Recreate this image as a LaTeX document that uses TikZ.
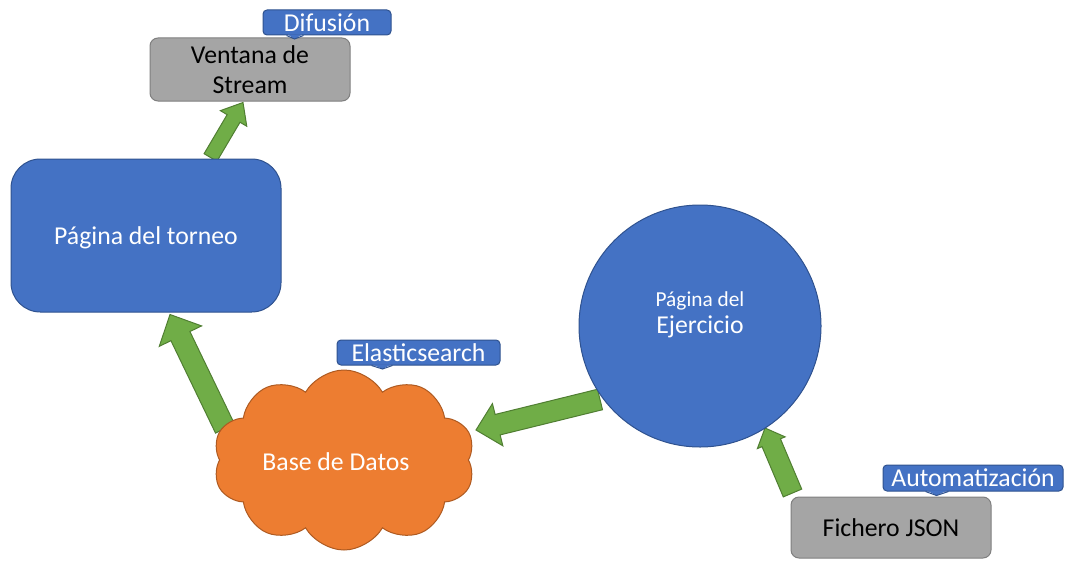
\documentclass[tikz,border=0pt]{standalone}
\usepackage{fontspec}
\setmainfont{Carlito}
\usetikzlibrary{shapes.symbols,calc,backgrounds}
\definecolor{bluefill}{HTML}{4472C4}
\definecolor{blueline}{HTML}{2F528F}
\definecolor{orangefill}{HTML}{ED7D31}
\definecolor{orangeline}{HTML}{AE5A21}
\definecolor{greenfill}{HTML}{70AD47}
\definecolor{greenline}{HTML}{507E32}
\definecolor{grayfill}{HTML}{A5A5A5}
\definecolor{grayline}{HTML}{7F7F7F}
\tikzset{
  base/.style={font=\fontsize{19.3}{23}\selectfont, inner sep=0pt, line width=0.75pt},
  graybox/.style={base, rounded corners=6pt, fill=grayfill, draw=grayline, text=black, align=center},
  bluebox/.style={base, fill=bluefill, draw=blueline, text=white, align=center},
  tagbox/.style={base, rounded corners=3pt, fill=bluefill, draw=blueline, text=white},
  cloudbox/.style={base, cloud, cloud puffs=10, cloud puff arc=120, aspect=1.45, fill=orangefill, draw=orangeline, text=white},
  blockarrowstyle/.style={fill=greenfill, draw=greenline, line width=0.75pt, line join=miter},
  tagfill/.style={fill=bluefill},
  tagline/.style={draw=blueline, line width=0.75pt},
}
% #1 start, #2 tip, #3 shaft half width, #4 head half width, #5 head length
\newcommand{\blockarr}[5]{%
  \coordinate (ba-h) at ($(#2)!#5!(#1)$);
  \path[blockarrowstyle] ($(#1)!#3!90:(#2)$) -- ($(ba-h)!#3!-90:(#1)$) -- ($(ba-h)!#4!-90:(#1)$)
    -- (#2) -- ($(ba-h)!#4!90:(#1)$) -- ($(ba-h)!#3!90:(#1)$) -- ($(#1)!#3!-90:(#2)$) -- cycle;}
% #1 node, #2 left offset, #3 tip offset, #4 right offset, #5 depth
\newcommand{\tagpointer}[5]{%
  \fill[tagfill] ($(#1.south west)+(#2,-1.2)$) -- ($(#1.south west)+(#3,#5)$) -- ($(#1.south west)+(#4,-1.2)$) -- cycle;
  \draw[tagline] ($(#1.south west)+(#2-1,0)$) -- ($(#1.south west)+(#3,#5)$) -- ($(#1.south west)+(#4+1,0)$);}
\begin{document}
\begin{tikzpicture}[x=0.75pt,y=-0.75pt]
\useasboundingbox (0,0) rectangle (1073,560);

% nodes
\node[graybox, minimum width=150pt, minimum height=47.25pt] (ventana) at (250,69.5) {Ventana de\\Stream};
\node[tagbox, minimum width=96pt, minimum height=18.75pt] (difusion) at (327,22.5) {Difusión};
\tagpointer{difusion}{25}{32}{40}{3.5}

\node[bluebox, rounded corners=22pt, minimum width=202.5pt, minimum height=114.75pt] (torneo) at (146,235.5) {};
\node[base, text=white] (torneotxt) at (146,238) {Página del torneo};

\node[cloudbox, minimum width=196.5pt, minimum height=135pt] (datos) at (344,460) {};
\node[base, text=white] (datostxt) at (336,462) {Base de Datos};
\node[tagbox, minimum width=122.25pt, minimum height=18.75pt] (elastic) at (418.5,352.5) {Elasticsearch};
\tagpointer{elastic}{36}{46}{55}{3.5}

\node[bluebox, circle, minimum size=181.5pt] (ejercicio) at (700,326) {};
\node[base, text=white, align=center] (ejerciciotxt) at (700,314.5) {{\fontsize{16}{19}\selectfont Página del}\\[-3pt]Ejercicio};

\node[graybox, minimum width=150pt, minimum height=45.75pt] (json) at (891,527.5) {Fichero JSON};
\node[tagbox, minimum width=135pt, minimum height=19.5pt] (auto) at (973,478) {Automatización};
\tagpointer{auto}{44}{54}{65}{4}

% connectors
\coordinate (a1s) at ($(torneo.north)+(64.5,-1)$);
\coordinate (a1t) at ($(ventana.south)+(-7,1)$);
\coordinate (a2s) at ($(datos.center)+(-119,-31.5)$);
\coordinate (a2t) at ($(torneo.south)+(24,2)$);
\coordinate (a3s) at ($(ejercicio.center)+(-100,73.5)$);
\coordinate (a3t) at ($(datos.center)+(132,-30)$);
\coordinate (a4s) at ($(json.north)+(-98.5,-3.5)$);
\coordinate (a4t) at ($(ejercicio.center)+(65,102)$);
\begin{scope}[on background layer]
  \blockarr{a1s}{a1t}{5.6pt}{11.5pt}{13.9pt}
  \blockarr{a2s}{a2t}{7.9pt}{17.6pt}{18pt}
  \blockarr{a3s}{a3t}{7.9pt}{16.3pt}{16.7pt}
  \blockarr{a4s}{a4t}{7.5pt}{11.3pt}{12pt}
\end{scope}
\end{tikzpicture}
\end{document}
